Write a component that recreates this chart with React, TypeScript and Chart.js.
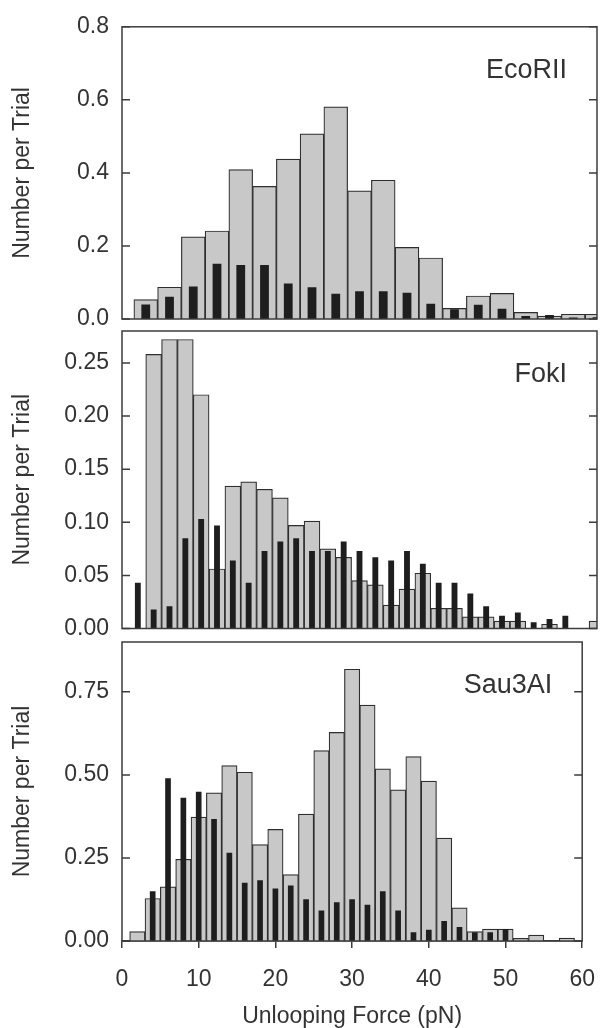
import React, { useEffect, useRef } from 'react';
import { Chart, registerables } from 'chart.js';

Chart.register(...registerables);

// ---------- DATA ----------
// EcoRII: 3 pN bins, centres 3..60
const ecoForce = [3, 6, 9, 12, 15, 18, 21, 24, 27, 30, 33, 36, 39, 42, 45, 48, 51, 54, 57, 60];
const ecoGray = [0.053, 0.087, 0.225, 0.241, 0.409, 0.363, 0.438, 0.507, 0.581, 0.351, 0.380, 0.196, 0.167, 0.029, 0.063, 0.070, 0.018, 0.008, 0.013, 0.013];
const ecoBlack = [0.040, 0.061, 0.089, 0.151, 0.148, 0.148, 0.097, 0.087, 0.069, 0.076, 0.076, 0.072, 0.042, 0.027, 0.039, 0.028, 0.008, 0.011, 0.004, 0.005];

// FokI: 2 pN bins, centres 2..60
const fokForce = [2, 4, 6, 8, 10, 12, 14, 16, 18, 20, 22, 24, 26, 28, 30, 32, 34, 36, 38, 40, 42, 44, 46, 48, 50, 52, 54, 56, 58, 60];
const fokGray = [null, 0.258, 0.272, 0.272, 0.220, 0.056, 0.134, 0.138, 0.131, 0.123, 0.097, 0.101, 0.075, 0.067, 0.045, 0.041, 0.022, 0.037, 0.052, 0.019, 0.019, 0.011, 0.011, 0.007, 0.007, null, 0.004, null, null, 0.007];
const fokBlack = [0.043, 0.018, 0.021, 0.085, 0.103, 0.097, 0.064, 0.043, 0.073, 0.082, 0.085, 0.073, 0.073, 0.082, 0.073, 0.067, 0.064, 0.073, 0.061, 0.043, 0.043, 0.033, 0.021, 0.012, 0.015, 0.006, 0.009, 0.012, null, null];

// Sau3AI: 2 pN bins, centres 2..60
const sauForce = [2, 4, 6, 8, 10, 12, 14, 16, 18, 20, 22, 24, 26, 28, 30, 32, 34, 36, 38, 40, 42, 44, 46, 48, 50, 52, 54, 56, 58, 60];
const sauGray = [0.028, 0.128, 0.163, 0.246, 0.373, 0.446, 0.528, 0.508, 0.290, 0.336, 0.200, 0.382, 0.573, 0.628, 0.818, 0.710, 0.518, 0.455, 0.555, 0.481, 0.310, 0.100, 0.028, 0.036, 0.036, 0.008, 0.018, null, 0.009, null];
const sauBlack = [null, 0.150, 0.490, 0.431, 0.449, 0.367, 0.266, 0.175, 0.183, 0.158, 0.167, 0.126, 0.092, 0.117, 0.126, 0.109, 0.150, 0.092, 0.026, 0.034, 0.060, 0.042, 0.026, 0.026, 0.036, null, null, null, null, null];

const panelNames = ['EcoRII', 'FokI', 'Sau3AI'];
const yMaxes = [0.8, 0.28, 0.9];
const yStepSizes = [0.2, 0.05, 0.25];
const yDecimals = [1, 2, 2];
const xMin = 0;
const xMax = 60;
const xStep = 10;
const xTitle = 'Unlooping Force (pN)';
const yTitle = 'Number per Trial';

// ---------- STYLE / LAYOUT ----------
const W = 613;
const H = 1028;
const FONT = '"Liberation Sans", Arial, Helvetica, sans-serif';
const TEXT = '#333333';
const FRAME = '#3c3c3c';
const GRAY_FILL = '#c8c8c8';
const GRAY_EDGE = '#2e2e2e';
const BLACK_FILL = '#1e1e1e';
// chart-area top/bottom for each panel
const areaTop = [20.5, 331, 642];
const areaBottom = [319, 628.5, 941];
const areaLeft = 122;
const areaRight = 597;

const framePlugin = {
  id: 'frameAndLabel',
  afterDatasetsDraw(chart: any, _args: any, opts: any) {
    const { ctx, chartArea: a } = chart;
    const y = chart.scales.y;
    ctx.save();
    ctx.strokeStyle = FRAME;
    ctx.lineWidth = 1.5;
    ctx.strokeRect(a.left, a.top, a.right - a.left, a.bottom - a.top);
    ctx.beginPath();
    y.ticks.forEach((t: any) => {
      const py = y.getPixelForValue(t.value);
      ctx.moveTo(a.left, py);
      ctx.lineTo(a.left + 8, py);
      ctx.moveTo(a.right - 8, py);
      ctx.lineTo(a.right, py);
    });
    ctx.stroke();
    ctx.font = `27px ${FONT}`;
    ctx.fillStyle = TEXT;
    ctx.textAlign = 'right';
    ctx.textBaseline = 'alphabetic';
    ctx.fillText(opts.label, a.right - 30, a.top + 51);
    ctx.restore();
  },
};

function makeConfig(i: number, force: number[], gray: (number | null)[], black: (number | null)[]) {
  const showX = i === 2;
  const tickFont = { family: FONT, size: 23 };
  const step = yStepSizes[i];
  return {
    type: 'bar',
    data: {
      datasets: [
        {
          label: 'black',
          data: force.map((x, k) => ({ x, y: black[k] })),
          backgroundColor: BLACK_FILL,
          borderWidth: 0,
          barPercentage: 0.37,
          categoryPercentage: 1,
          grouped: false,
          order: 0,
        },
        {
          label: 'gray',
          data: force.map((x, k) => ({ x, y: gray[k] })),
          backgroundColor: GRAY_FILL,
          borderColor: GRAY_EDGE,
          borderWidth: 1.2,
          barPercentage: 1,
          categoryPercentage: 1,
          grouped: false,
          order: 1,
        },
      ],
    },
    options: {
      animation: false,
      responsive: false,
      maintainAspectRatio: false,
      events: [],
      layout: {
        padding: {
          top: areaTop[i],
          bottom: showX ? 0 : H - areaBottom[i],
          left: 0,
          right: W - areaRight,
        },
      },
      plugins: {
        legend: { display: false },
        tooltip: { enabled: false },
        frameAndLabel: { label: panelNames[i] },
      },
      scales: {
        x: {
          type: 'linear',
          min: xMin,
          max: xMax,
          bounds: 'data',
          offset: false,
          display: showX,
          ticks: {
            stepSize: xStep,
            font: tickFont,
            color: TEXT,
            padding: 18,
            maxRotation: 0,
            autoSkip: false,
          },
          grid: {
            display: true,
            offset: false,
            drawOnChartArea: false,
            drawTicks: true,
            tickLength: 7,
            color: FRAME,
            lineWidth: 1.5,
          },
          border: { display: true, color: FRAME, width: 1.5 },
          title: {
            display: true,
            text: xTitle,
            font: { family: FONT, size: 23 },
            color: TEXT,
            padding: { top: 0, bottom: -2 },
          },
          afterFit: (s: any) => {
            if (showX) s.height = H - areaBottom[2];
            else s.height = 0;
          },
        },
        y: {
          type: 'linear',
          min: 0,
          max: yMaxes[i],
          bounds: 'data',
          ticks: {
            stepSize: step,
            includeBounds: false,
            font: tickFont,
            color: TEXT,
            padding: 13,
            callback: (v: any) => Number(v).toFixed(yDecimals[i]),
          },
          afterBuildTicks: (s: any) => {
            s.ticks = s.ticks.filter((t: any) => {
              const r = t.value / step;
              return Math.abs(r - Math.round(r)) < 1e-6;
            });
          },
          grid: { display: false, drawTicks: false, tickLength: 0 },
          border: { display: false },
          title: {
            display: true,
            text: yTitle,
            font: { family: FONT, size: 23 },
            color: TEXT,
            padding: { top: 9, bottom: 0 },
          },
          afterFit: (s: any) => {
            s.width = areaLeft;
          },
        },
      },
    },
    plugins: [framePlugin],
  };
}

function Panel({ index }: { index: number }) {
  const ref = useRef<HTMLCanvasElement | null>(null);
  useEffect(() => {
    if (!ref.current) return;
    const sets = [
      [ecoForce, ecoGray, ecoBlack],
      [fokForce, fokGray, fokBlack],
      [sauForce, sauGray, sauBlack],
    ] as any[];
    const [f, g, b] = sets[index];
    const chart = new Chart(ref.current, makeConfig(index, f, g, b) as any);
    return () => chart.destroy();
  }, [index]);
  return (
    <canvas
      ref={ref}
      width={W}
      height={H}
      style={{ position: 'absolute', left: 0, top: 0, width: W, height: H }}
    />
  );
}

export default function App() {
  return (
    <div style={{ position: 'fixed', left: 0, top: 0, width: W, height: H, background: '#ffffff' }}>
      <Panel index={0} />
      <Panel index={1} />
      <Panel index={2} />
    </div>
  );
}
